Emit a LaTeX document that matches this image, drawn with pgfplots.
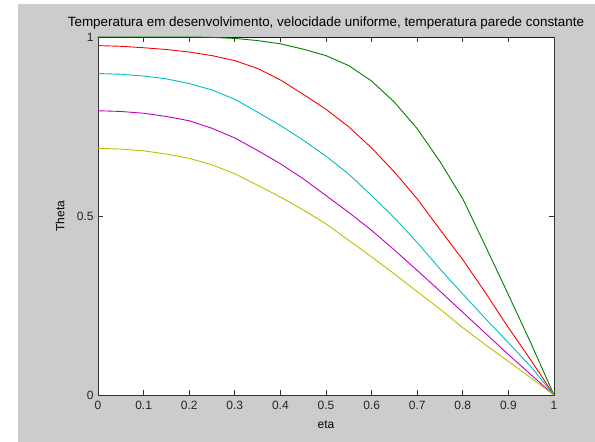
\documentclass[border=0pt]{standalone}
\usepackage{pgfplots}
\pgfplotsset{compat=1.18}
\usepackage{fontspec}
\setmainfont{Liberation Sans}
\definecolor{mgray}{RGB}{204,204,204}
\definecolor{mblue}{RGB}{0,0,255}
\definecolor{mgreen}{RGB}{0,128,0}
\definecolor{mred}{RGB}{255,0,0}
\definecolor{mcyan}{RGB}{0,191,191}
\definecolor{mmag}{RGB}{191,0,191}
\definecolor{myel}{RGB}{191,191,0}
\begin{document}
\begin{tikzpicture}[x=1pt,y=1pt]
\path[use as bounding box] (-98,-47) rectangle (497,395);
\fill[white] (-98,-47) rectangle (497,395);
\fill[mgray] (-80,-47) rectangle (497,391);
\begin{axis}[
    at={(0,0)}, anchor=south west,
    scale only axis,
    width=456pt, height=358pt,
    xmin=0, xmax=1, ymin=0, ymax=1,
    axis background/.style={fill=white},
    axis line style={black!80, line width=0.8pt},
    tick align=inside,
    major tick length=5pt,
    tick style={black!80, line width=0.7pt},
    xtick={0,0.1,0.2,0.3,0.4,0.5,0.6,0.7,0.8,0.9,1},
    xticklabels={0,0.1,0.2,0.3,0.4,0.5,0.6,0.7,0.8,0.9,1},
    ytick={0,0.5,1},
    yticklabels={0,0.5,1},
    /pgf/number format/assume math mode=true,
    ticklabel style={font=\fontsize{12}{14}\selectfont, text=black!85},
    xticklabel style={yshift=-3pt},
    yticklabel style={xshift=-1pt},
    xlabel={eta},
    ylabel={Theta},
    label style={font=\fontsize{12}{14}\selectfont},
    xlabel style={at={(axis description cs:0.5,-0.084)}, anchor=center},
    ylabel style={at={(axis description cs:-0.083,0.5)}, anchor=center},
    title={Temperatura em desenvolvimento, velocidade uniforme, temperatura parede constante},
    title style={at={(axis description cs:0.5,1.021)}, anchor=center, font=\fontsize{13.4}{15}\selectfont},
    every axis plot/.append style={line width=0.9pt},
    clip=false,
]
% theta = 1 (perfil inicial)
\addplot[mblue] coordinates {(0,1) (1,1)};
\addplot[mgreen] coordinates {
(0,1) (0.05,1) (0.1,1) (0.15,1) (0.2,1) (0.25,0.999) (0.3,0.996) (0.35,0.990)
(0.4,0.981) (0.45,0.966) (0.5,0.948) (0.55,0.920) (0.6,0.877) (0.65,0.818)
(0.7,0.744) (0.75,0.652) (0.8,0.548) (0.85,0.415) (0.9,0.280) (0.95,0.143) (1,0)};
\addplot[mred] coordinates {
(0,0.976) (0.05,0.974) (0.1,0.970) (0.15,0.965) (0.2,0.958) (0.25,0.948) (0.3,0.934)
(0.35,0.912) (0.4,0.880) (0.45,0.840) (0.5,0.798) (0.55,0.749) (0.6,0.690)
(0.65,0.623) (0.7,0.548) (0.75,0.462) (0.8,0.378) (0.85,0.285) (0.9,0.188) (0.95,0.096) (1,0)};
\addplot[mcyan] coordinates {
(0,0.898) (0.05,0.896) (0.1,0.891) (0.15,0.883) (0.2,0.870) (0.25,0.852) (0.3,0.826)
(0.35,0.790) (0.4,0.753) (0.45,0.712) (0.5,0.667) (0.55,0.617) (0.6,0.557)
(0.65,0.495) (0.7,0.426) (0.75,0.352) (0.8,0.282) (0.85,0.213) (0.9,0.146) (0.95,0.078) (1,0)};
\addplot[mmag] coordinates {
(0,0.794) (0.05,0.792) (0.1,0.787) (0.15,0.778) (0.2,0.766) (0.25,0.745) (0.3,0.718)
(0.35,0.683) (0.4,0.646) (0.45,0.604) (0.5,0.557) (0.55,0.510) (0.6,0.460)
(0.65,0.405) (0.7,0.348) (0.75,0.290) (0.8,0.231) (0.85,0.172) (0.9,0.113) (0.95,0.056) (1,0)};
\addplot[myel] coordinates {
(0,0.689) (0.05,0.687) (0.1,0.682) (0.15,0.673) (0.2,0.661) (0.25,0.643) (0.3,0.618)
(0.35,0.586) (0.4,0.553) (0.45,0.517) (0.5,0.478) (0.55,0.432) (0.6,0.386)
(0.65,0.338) (0.7,0.289) (0.75,0.240) (0.8,0.188) (0.85,0.140) (0.9,0.094) (0.95,0.047) (1,0)};
\end{axis}
\end{tikzpicture}
\end{document}
